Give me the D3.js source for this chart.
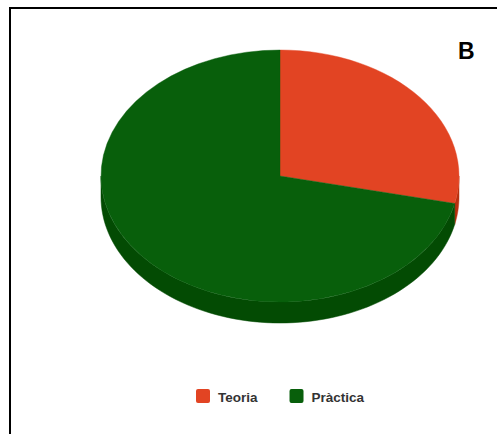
<!DOCTYPE html>
<html>
<head>
<meta charset="utf-8">
<script src="https://cdn.jsdelivr.net/npm/d3@7"></script>
<style>
  html, body { margin: 0; padding: 0; background: #fff; }
  svg { display: block; }
</style>
</head>
<body>
<svg id="chart" width="497" height="434"></svg>
<script>
// ---- data ----
const categories = ["Teoria", "Pràctica"];
const values = [28.5, 71.5];
const topColors = ["#E24423", "#085F0B"];
const sideColors = ["#B8300F", "#034B03"];
const panelLabel = "B";

const W = 497, H = 434;
const svg = d3.select("#chart");

// border frame
svg.append("rect")
  .attr("x", 10).attr("y", 8)
  .attr("width", W).attr("height", H)
  .attr("fill", "none").attr("stroke", "#000").attr("stroke-width", 2);

const cx = 280, cy = 176, rx = 179, ry = 126, depth = 21;

const pie = d3.pie().sort(null).value(d => d.v);
const slices = pie(categories.map((c, i) => ({ c, v: values[i], i })));

// ellipse point helper for pie angle (0 at top, clockwise)
const pt = (a, dy) => [cx + rx * Math.sin(a), cy - ry * Math.cos(a) + dy];

// side walls (visible front half: angles PI/2 .. 3PI/2)
const line = d3.line();
slices.forEach(s => {
  const a0 = Math.max(s.startAngle, Math.PI / 2);
  const a1 = Math.min(s.endAngle, 3 * Math.PI / 2);
  if (a1 <= a0) return;
  const n = 80;
  const angs = d3.range(n + 1).map(k => a0 + (a1 - a0) * k / n);
  const pts = angs.map(a => pt(a, 0)).concat(angs.slice().reverse().map(a => pt(a, depth)));
  svg.append("path")
    .attr("d", line(pts) + "Z")
    .attr("fill", sideColors[s.data.i])
    .attr("stroke", sideColors[s.data.i])
    .attr("stroke-width", 0.5);
});

// top faces
const arc = d3.arc().innerRadius(0).outerRadius(rx);
const topG = svg.append("g")
  .attr("transform", `translate(${cx},${cy}) scale(1,${ry / rx})`);
topG.selectAll("path.top")
  .data(slices)
  .join("path")
  .attr("class", "top")
  .attr("d", arc)
  .attr("fill", d => topColors[d.data.i])
  .attr("stroke", d => topColors[d.data.i])
  .attr("stroke-width", 0.5);

// legend
const legend = svg.append("g").attr("font-family", "'Liberation Sans', Arial, sans-serif")
  .attr("font-weight", "bold").attr("font-size", 13.5).attr("fill", "#333333");
let lx = 196;
categories.forEach((c, i) => {
  legend.append("rect")
    .attr("x", lx).attr("y", 389).attr("width", 14).attr("height", 14)
    .attr("rx", 2).attr("fill", topColors[i]);
  const t = legend.append("text").attr("x", lx + 22).attr("y", 401.5).text(c);
  const w = t.node().getComputedTextLength();
  lx = lx + 22 + w + 32;
});

// panel label
svg.append("text")
  .attr("x", 458).attr("y", 59)
  .attr("font-family", "'Liberation Sans', Arial, sans-serif")
  .attr("font-weight", "bold").attr("font-size", 23)
  .attr("fill", "#000")
  .text(panelLabel);
</script>
</body>
</html>
